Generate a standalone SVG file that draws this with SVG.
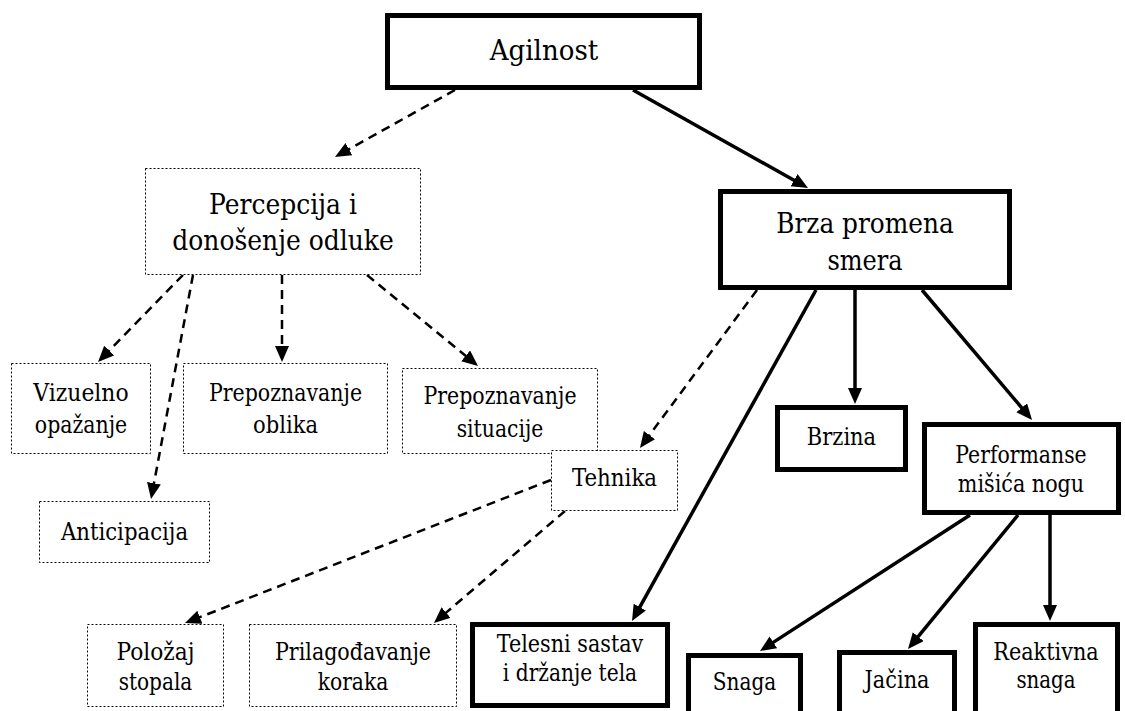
<svg xmlns="http://www.w3.org/2000/svg" width="1125" height="711" viewBox="0 0 1125 711">
<style>
text{font-family:'DejaVu Serif',serif;fill:#000;text-anchor:middle}
.big{font-size:28.5px}
.sm{font-size:23.5px}
.thick{fill:#fff;stroke:#000;stroke-width:5}
.dot{fill:#fff;stroke:#000;stroke-width:1;stroke-dasharray:2 2}
.dash{fill:none;stroke:#000;stroke-width:2.5;stroke-dasharray:9 6;marker-end:url(#ah)}
.solid{fill:none;stroke:#000;stroke-width:3.5;marker-end:url(#ah)}
</style>
<defs>
<marker id="ah" markerUnits="userSpaceOnUse" markerWidth="18" markerHeight="16" refX="2" refY="7" orient="auto">
<path d="M0,0 L16,7 L0,14 z" fill="#000"/>
</marker>
</defs>
<rect width="1125" height="711" fill="#fff"/>
<g id="connectors">
<path class="dash" d="M455,90 L347.2,150.2"/>
<path class="solid" d="M633,90 L795.8,181.2"/>
<path class="dash" d="M183,275 L107.8,352"/>
<path class="dash" d="M193,275 L153.6,485.2"/>
<path class="dash" d="M282,275 L282,348"/>
<path class="dash" d="M367,275 L467.2,357.1"/>
<path class="dash" d="M757,290 L648.3,436.7"/>
<path class="dash" d="M551,480 L198,617.9"/>
<path class="dash" d="M565,511 L444.6,613.9"/>
<path class="solid" d="M816,290 L638.8,608.8"/>
<path class="solid" d="M855,290 L855,390"/>
<path class="solid" d="M922,290 L1023,409.3"/>
<path class="solid" d="M970,515 L771.7,643.4"/>
<path class="solid" d="M1018,515 L916.9,638.2"/>
<path class="solid" d="M1050,515 L1050,607"/>
</g>
<g id="n-agilnost"><rect class="thick" x="387.5" y="15.5" width="312" height="72"/><text class="big" x="544" y="60" textLength="108.5" lengthAdjust="spacingAndGlyphs">Agilnost</text></g>
<g id="n-percepcija"><rect class="dot" x="145.5" y="168.5" width="275" height="106"/><text class="big" x="283" y="214" textLength="147.8" lengthAdjust="spacingAndGlyphs">Percepcija i</text><text class="big" x="283" y="250" textLength="221.4" lengthAdjust="spacingAndGlyphs">donošenje odluke</text></g>
<g id="n-vizuelno"><rect class="dot" x="11.5" y="363.5" width="139" height="90"/><text class="sm" x="81" y="401" textLength="95.3" lengthAdjust="spacingAndGlyphs">Vizuelno</text><text class="sm" x="81" y="433" textLength="92.4" lengthAdjust="spacingAndGlyphs">opažanje</text></g>
<g id="n-oblika"><rect class="dot" x="183.5" y="363.5" width="204" height="90"/><text class="sm" x="285.5" y="401" textLength="153.1" lengthAdjust="spacingAndGlyphs">Prepoznavanje</text><text class="sm" x="285.5" y="433" textLength="65" lengthAdjust="spacingAndGlyphs">oblika</text></g>
<g id="n-situacije"><rect class="dot" x="402.5" y="368.5" width="195" height="85"/><text class="sm" x="500" y="404" textLength="153.1" lengthAdjust="spacingAndGlyphs">Prepoznavanje</text><text class="sm" x="500" y="437" textLength="86.7" lengthAdjust="spacingAndGlyphs">situacije</text></g>
<g id="n-anticipacija"><rect class="dot" x="39.5" y="501.5" width="170" height="61"/><text class="sm" x="124.5" y="540" textLength="127.1" lengthAdjust="spacingAndGlyphs">Anticipacija</text></g>
<g id="n-tehnika"><rect class="dot" x="551.5" y="450.5" width="126" height="60"/><text class="sm" x="614.5" y="486" textLength="85.2" lengthAdjust="spacingAndGlyphs">Tehnika</text></g>
<g id="n-polozaj"><rect class="dot" x="87.5" y="624.5" width="136" height="82"/><text class="sm" x="155.5" y="660" textLength="78" lengthAdjust="spacingAndGlyphs">Položaj</text><text class="sm" x="155.5" y="690" textLength="73.7" lengthAdjust="spacingAndGlyphs">stopala</text></g>
<g id="n-prilagodjavanje"><rect class="dot" x="249.5" y="624.5" width="207" height="82"/><text class="sm" x="353" y="660" textLength="156" lengthAdjust="spacingAndGlyphs">Prilagođavanje</text><text class="sm" x="353" y="690" textLength="70.7" lengthAdjust="spacingAndGlyphs">koraka</text></g>
<g id="n-brza"><rect class="thick" x="720.5" y="191.5" width="289" height="96"/><text class="big" x="865" y="233" textLength="177.6" lengthAdjust="spacingAndGlyphs">Brza promena</text><text class="big" x="865" y="270" textLength="75.2" lengthAdjust="spacingAndGlyphs">smera</text></g>
<g id="n-brzina"><rect class="thick" x="777.5" y="407.5" width="128" height="62"/><text class="sm" x="841.5" y="445" textLength="69.3" lengthAdjust="spacingAndGlyphs">Brzina</text></g>
<g id="n-performanse"><rect class="thick" x="924.5" y="424.5" width="194" height="88"/><text class="sm" x="1021" y="463" textLength="131.4" lengthAdjust="spacingAndGlyphs">Performanse</text><text class="sm" x="1021" y="492" textLength="126.4" lengthAdjust="spacingAndGlyphs">mišića nogu</text></g>
<g id="n-telesni"><rect class="thick" x="472.5" y="624.5" width="195" height="81"/><text class="sm" x="570" y="652" textLength="146.6" lengthAdjust="spacingAndGlyphs">Telesni sastav</text><text class="sm" x="570" y="681" textLength="134.3" lengthAdjust="spacingAndGlyphs">i držanje tela</text></g>
<g id="n-snaga"><rect class="thick" x="688.5" y="655.5" width="112" height="70"/><text class="sm" x="744.5" y="690" textLength="63.5" lengthAdjust="spacingAndGlyphs">Snaga</text></g>
<g id="n-jacina"><rect class="thick" x="839.5" y="652.5" width="115" height="70"/><text class="sm" x="897" y="688" textLength="65" lengthAdjust="spacingAndGlyphs">Jačina</text></g>
<g id="n-reaktivna"><rect class="thick" x="975.5" y="624.5" width="142" height="100"/><text class="sm" x="1046" y="660" textLength="105.4" lengthAdjust="spacingAndGlyphs">Reaktivna</text><text class="sm" x="1046" y="688" textLength="59.2" lengthAdjust="spacingAndGlyphs">snaga</text></g>
</svg>
